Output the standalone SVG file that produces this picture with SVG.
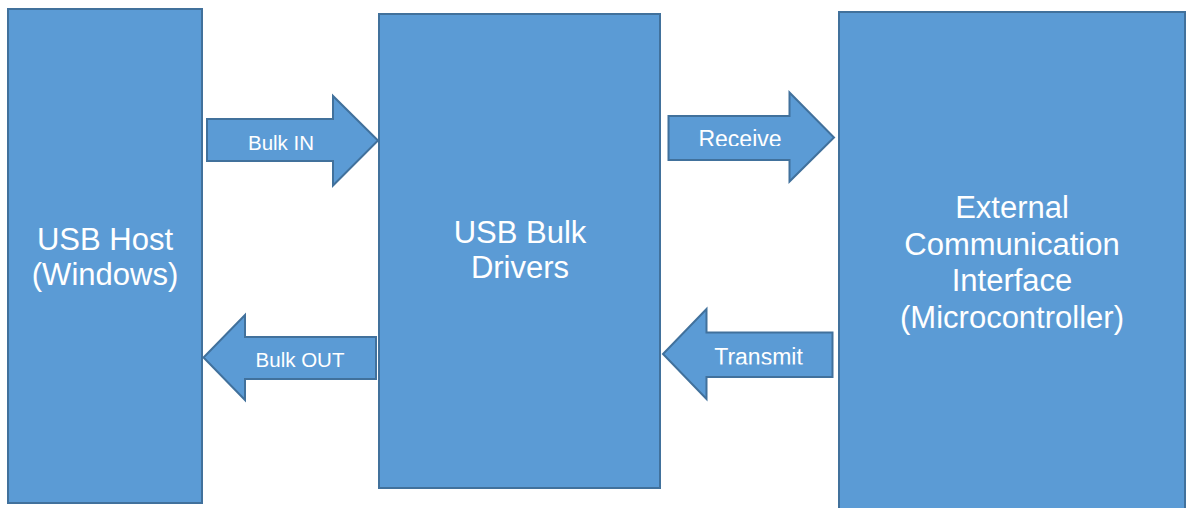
<svg xmlns="http://www.w3.org/2000/svg" width="1186" height="508" viewBox="0 0 1186 508">
  <style>
    .box { fill: #5B9BD5; stroke: #41719C; stroke-width: 2; }
    .arrow { fill: #5B9BD5; stroke: #41719C; stroke-width: 2; stroke-linejoin: miter; }
    .big { font-family: "Liberation Sans", Arial, sans-serif; font-size: 31px; fill: #FFFFFF; text-anchor: middle; }
    .lbl { font-family: "Liberation Sans", Arial, sans-serif; font-size: 20.5px; fill: #FFFFFF; text-anchor: middle; }
    .lbl2 { font-family: "Liberation Sans", Arial, sans-serif; font-size: 23px; fill: #FFFFFF; text-anchor: middle; }
  </style>
  <defs>
    <clipPath id="clipReceive"><rect x="660" y="110" width="180" height="36"/></clipPath>
    <clipPath id="clipTransmit"><rect x="660" y="330" width="180" height="34.5"/></clipPath>
  </defs>
  <rect width="1186" height="508" fill="#FFFFFF"/>

  <!-- blocks -->
  <g id="usb-host">
    <rect class="box" x="8" y="9" width="194" height="494"/>
    <text class="big" x="105" y="250">USB Host</text>
    <text class="big" x="105" y="285">(Windows)</text>
  </g>
  <g id="usb-bulk-drivers">
    <rect class="box" x="379" y="14" width="281" height="474"/>
    <text class="big" x="520" y="243">USB Bulk</text>
    <text class="big" x="520" y="278">Drivers</text>
  </g>
  <g id="external-interface">
    <rect class="box" x="839" y="12" width="346" height="510"/>
    <text class="big" x="1012" y="218">External</text>
    <text class="big" x="1012" y="254.5">Communication</text>
    <text class="big" x="1012" y="291">Interface</text>
    <text class="big" x="1012" y="327.5">(Microcontroller)</text>
  </g>

  <!-- block arrows between the blocks -->
  <g id="connectors">
    <g id="bulk-in">
      <polygon class="arrow" points="207,119 333,119 333,96 378,140.5 333,185.5 333,161 207,161"/>
      <text class="lbl" x="281" y="150">Bulk IN</text>
    </g>
    <g id="bulk-out">
      <polygon class="arrow" points="376,337 245,337 245,315 203.5,357.5 245,400 245,379 376,379"/>
      <text class="lbl" x="300" y="367">Bulk OUT</text>
    </g>
    <g id="receive">
      <polygon class="arrow" points="668.5,116 789.5,116 789.5,92.5 834,137.5 789.5,181.5 789.5,160 668.5,160"/>
      <text class="lbl2" x="740" y="147" clip-path="url(#clipReceive)">Receive</text>
    </g>
    <g id="transmit">
      <polygon class="arrow" points="832.5,332.5 706.5,332.5 706.5,309 663,354 706.5,399 706.5,377 832.5,377"/>
      <text class="lbl2" x="758.5" y="365" clip-path="url(#clipTransmit)">Transmit</text>
    </g>
  </g>
</svg>
